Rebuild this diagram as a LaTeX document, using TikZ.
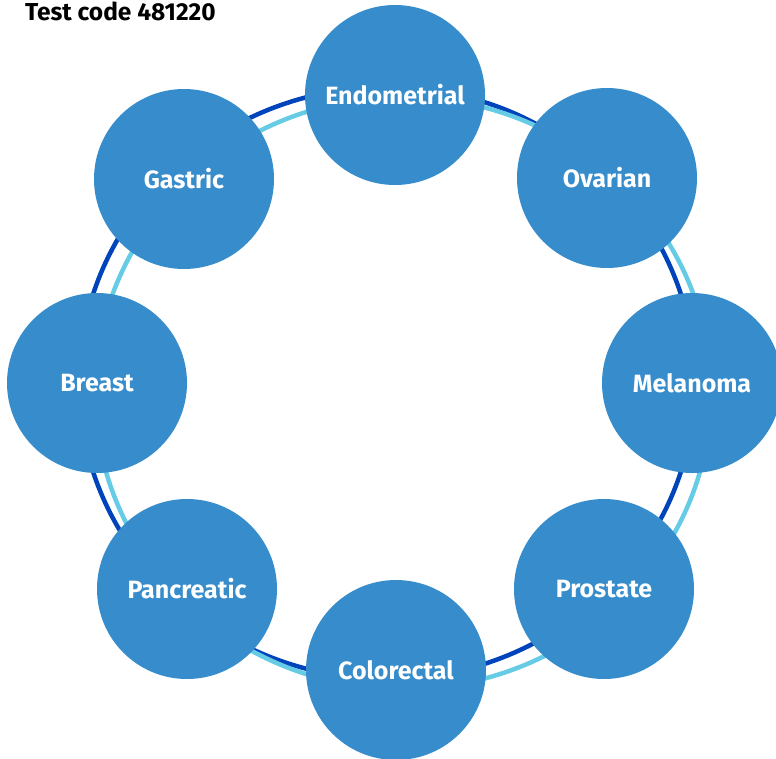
\documentclass[tikz,border=0pt]{standalone}
\usepackage{fontspec}
\setmainfont{Fira Sans}
\usetikzlibrary{positioning}
\definecolor{cancerblue}{RGB}{55,140,203}
\definecolor{ringdark}{RGB}{0,68,187}
\definecolor{ringlight}{RGB}{102,204,230}
\tikzset{
    cancer/.style={circle, fill=cancerblue, minimum size=180pt, inner sep=0pt,
        text=white, font=\fontsize{25}{30}\selectfont\bfseries},
    ring/.style={line width=4.5pt},
}

\begin{document}
\begin{tikzpicture}[x=1pt,y=-1pt]
   \useasboundingbox (0,0) rectangle (776,758);
   \node[anchor=west, inner sep=0pt, font=\fontsize{24.5}{28}\selectfont\bfseries] (title) at (25,11) {Test code 481220};
   % the two rings behind the circles
   \draw[ring, ringdark] (387,383) ellipse (308 and 296);
   \draw[ring, ringlight] (403,393) ellipse (308 and 296);
   \node[cancer] (endo) at (395,95) {Endometrial};
   \node[cancer] (ovar) at (607,178) {Ovarian};
   \node[cancer] (mela) at (692,383) {Melanoma};
   \node[cancer] (pros) at (604,589) {Prostate};
   \node[cancer] (colo) at (396,670) {Colorectal};
   \node[cancer] (panc) at (187,589) {Pancreatic};
   \node[cancer] (brea) at (97,383) {Breast};
   \node[cancer] (gast) at (184,179) {Gastric};
\end{tikzpicture}
\end{document}
